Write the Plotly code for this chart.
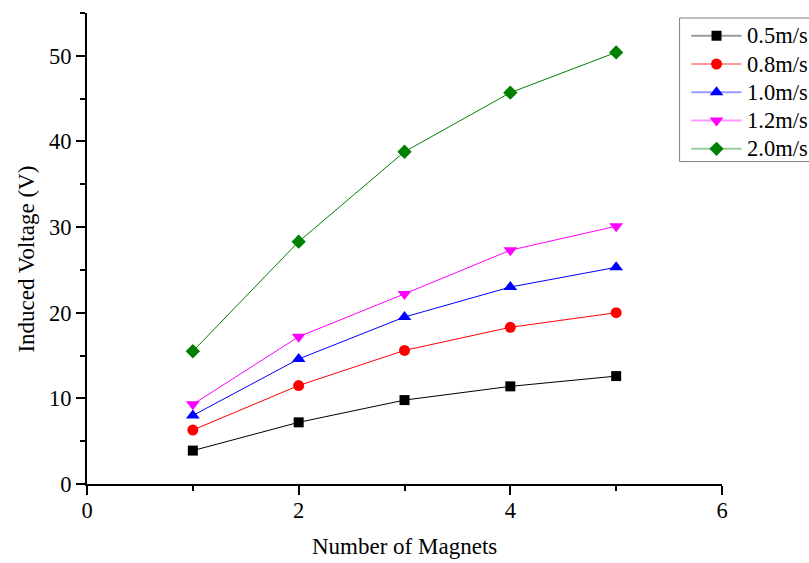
import plotly.graph_objects as go

# Induced voltage versus number of magnets, one series per speed
magnets = [1, 2, 3, 4, 5]
speed_labels = ["0.5m/s", "0.8m/s", "1.0m/s", "1.2m/s", "2.0m/s"]
v_05 = [3.9, 7.2, 9.8, 11.4, 12.6]
v_08 = [6.3, 11.5, 15.6, 18.3, 20.0]
v_10 = [8.0, 14.6, 19.5, 23.0, 25.3]
v_12 = [9.3, 17.2, 22.2, 27.3, 30.1]
v_20 = [15.5, 28.3, 38.8, 45.7, 50.4]

series = [v_05, v_08, v_10, v_12, v_20]
colors = ["#000000", "#FF0000", "#0000FF", "#FF00FF", "#008000"]
faded = ["rgba(0,0,0,0.4)", "rgba(255,0,0,0.4)", "rgba(0,0,255,0.4)",
         "rgba(255,0,255,0.4)", "rgba(0,128,0,0.4)"]
symbols = ["square", "circle", "triangle-up", "triangle-down", "diamond"]
sizes = [10, 11, 12, 12, 11]
legend_sizes = [10, 11, 12, 12, 11]

FONT = "Liberation Serif, Times New Roman, serif"
FS = 22.5

# figure geometry (px)
W, H = 809, 563
ML, MR, MT, MB = 86.5, 86.5, 13.3, 79.3
PW, PH = W - ML - MR, H - MT - MB


def px_x(p):
    return (p - ML) / PW


def px_y(p):
    return (H - MB - p) / PH


fig = go.Figure()
for label, ys, c, sym, sz in zip(speed_labels, series, colors, symbols, sizes):
    fig.add_trace(go.Scatter(
        x=magnets, y=ys, name=label, mode="lines+markers",
        line=dict(color=c, width=1),
        marker=dict(symbol=sym, size=sz, color=c, line=dict(width=0)),
        cliponaxis=False, showlegend=False,
    ))

axis_common = dict(
    showline=True, linecolor="black", linewidth=2,
    ticks="outside", ticklen=9, tickwidth=2, tickcolor="black",
    showgrid=False, zeroline=False,
    tickfont=dict(family=FONT, size=FS, color="black"),
    minor=dict(ticks="outside", ticklen=5, tickwidth=2, tickcolor="black"),
)

fig.update_xaxes(range=[0, 6], tickmode="linear", tick0=0, dtick=2,
                 ticklabelstandoff=-4, **axis_common)
fig.update_yaxes(range=[0, 55], tickmode="linear", tick0=0, dtick=10,
                 **axis_common)
fig.update_xaxes(minor_dtick=1)
fig.update_yaxes(minor_dtick=5)

# overlay axes in paper units, used for the legend markers
fig.update_layout(
    xaxis2=dict(overlaying="x", range=[0, 1], visible=False, fixedrange=True),
    yaxis2=dict(overlaying="y", range=[0, 1], visible=False, fixedrange=True),
)

# legend: frame, line samples, markers and labels
box_left, box_top, box_bottom = 680, 18.3, 161.7
row0, row_gap = 36.0, 28.25
line_x0, line_x1, mark_x, text_x = 691.7, 742.0, 717.0, 746.0

shapes = [dict(type="rect", xref="paper", yref="paper",
               x0=px_x(box_left), x1=px_x(830), y0=px_y(box_bottom), y1=px_y(box_top),
               line=dict(color="#7f7f7f", width=1), fillcolor="rgba(0,0,0,0)", layer="below")]
annotations = []
mk_x, mk_y = [], []
for i, (label, fc) in enumerate(zip(speed_labels, faded)):
    ry = row0 + i * row_gap
    shapes.append(dict(type="line", xref="paper", yref="paper",
                       x0=px_x(line_x0), x1=px_x(line_x1), y0=px_y(ry), y1=px_y(ry),
                       line=dict(color=fc, width=2), layer="below"))
    mk_x.append(px_x(mark_x))
    mk_y.append(px_y(ry))
    annotations.append(dict(text=label, xref="paper", yref="paper",
                            x=px_x(text_x), y=px_y(ry), xanchor="left", yanchor="middle",
                            showarrow=False, font=dict(family=FONT, size=FS, color="black")))

fig.add_trace(go.Scatter(
    x=mk_x, y=mk_y, xaxis="x2", yaxis="y2", mode="markers",
    marker=dict(symbol=symbols, size=legend_sizes, color=colors, opacity=1,
                line=dict(width=0)),
    cliponaxis=False, showlegend=False, hoverinfo="skip",
))

# axis titles
annotations.append(dict(text="Number of Magnets", xref="paper", yref="paper",
                        x=px_x(404.5), y=px_y(546), xanchor="center", yanchor="middle",
                        showarrow=False, font=dict(family=FONT, size=23, color="black")))
annotations.append(dict(text="Induced Voltage (V)", xref="paper", yref="paper",
                        x=px_x(25), y=px_y(259), xanchor="center", yanchor="middle",
                        textangle=-90, showarrow=False,
                        font=dict(family=FONT, size=23, color="black")))

fig.update_layout(
    width=W, height=H,
    margin=dict(l=ML, r=MR, t=MT, b=MB, pad=0, autoexpand=False),
    paper_bgcolor="white", plot_bgcolor="rgba(0,0,0,0)",
    font=dict(family=FONT, size=FS, color="black"),
    shapes=shapes, annotations=annotations,
    showlegend=False,
)

fig.write_html("out.html")
